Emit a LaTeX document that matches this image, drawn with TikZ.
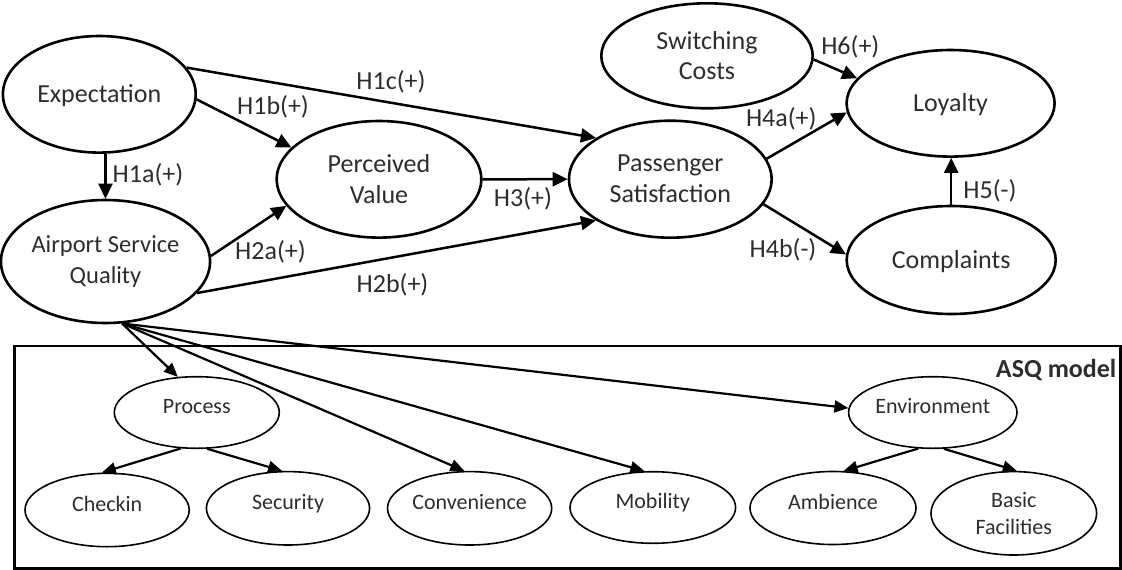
\documentclass[tikz,border=0pt]{standalone}
\usepackage{fontspec}
\setmainfont{Carlito}
\usetikzlibrary{arrows.meta,shapes.geometric}
\definecolor{txt}{RGB}{45,45,45}
\begin{document}
\begin{tikzpicture}[x=1pt,y=-1pt,
  big/.style={draw, ellipse, line width=2.6pt, inner sep=0pt, align=center,
    text=txt, font=\fontsize{26}{31}\selectfont},
  bigone/.style={big, text height=17pt, text depth=0pt},
  small/.style={draw, ellipse, line width=1.6pt, inner sep=0pt, align=center,
    text=txt, font=\fontsize{22}{26.5}\selectfont},
  smallone/.style={small, text height=14pt, text depth=12pt},
  lbl/.style={inner sep=0pt, text=txt, font=\fontsize{26}{31}\selectfont},
  arr/.style={line width=2.5pt, -{Triangle[length=15pt,width=14pt]}},
  sarr/.style={line width=2.2pt, -{Triangle[length=14pt,width=12pt]}},
]
\useasboundingbox (0,0) rectangle (1122,570);

% structural model
\node[bigone, minimum width=192.8pt, minimum height=116.6pt] (exp) at (99.3,94.3) {Expectation};
\node[big, minimum width=207.6pt, minimum height=123pt, font=\fontsize{24.5}{31}\selectfont] (asq) at (105.5,261.5) {Airport Service\\Quality};
\node[big, minimum width=204.6pt, minimum height=116.6pt] (pv) at (379,179.3) {Perceived\\Value};
\node[big, minimum width=202.6pt, minimum height=117pt] (ps) at (670.3,179.2) {Passenger\\Satisfaction};
\node[big, minimum width=211.4pt, minimum height=105pt, font=\fontsize{26}{30}\selectfont] (sc) at (707,55.8) {Switching\\Costs};
\node[bigone, minimum width=208pt, minimum height=106.6pt] (loy) at (950.6,103.3) {Loyalty};
\node[bigone, minimum width=209pt, minimum height=108pt] (comp) at (951.2,260) {Complaints};

\draw[arr] (asq.north |- exp.south) -- (asq.north);
\draw[arr] (exp.-3) -- (pv.160);
\draw[arr] (exp.17) -- (ps.151);
\draw[arr] (asq.3) -- (pv.196);
\draw[arr] (asq.-19) -- (ps.209);
\draw[arr] (pv.east) -- (ps.west);
\draw[arr] (sc.-2) -- (loy.165);
\draw[arr] (ps.12) -- (loy.185);
\draw[arr] (ps.-15) -- (comp.177);
\draw[arr] (comp.north) -- (comp.north |- loy.south);

\node[lbl] (h1a) at (148,175) {H1a(+)};
\node[lbl] (h1b) at (273,107) {H1b(+)};
\node[lbl] (h1c) at (391,81.7) {H1c(+)};
\node[lbl] (h2a) at (270.5,251.7) {H2a(+)};
\node[lbl] (h2b) at (392.5,285) {H2b(+)};
\node[lbl] (h3) at (523,198.3) {H3(+)};
\node[lbl] (h6) at (850.3,46.7) {H6(+)};
\node[lbl] (h4a) at (781.3,119) {H4a(+)};
\node[lbl] (h4b) at (783,250) {H4b(-)};
\node[lbl] (h5) at (990,191) {H5(-)};

% ASQ measurement model
\draw[line width=2.6pt] (14.3,345.8) rectangle (1120.3,568.3);
\node[anchor=east, inner sep=0pt, text=txt, font=\fontsize{26}{31}\bfseries] (asqmodel) at (1116.5,370) {ASQ model};

\node[smallone, minimum width=165pt, minimum height=71.6pt] (proc) at (196.8,412.5) {Process};
\node[smallone, minimum width=168.4pt, minimum height=71.6pt] (env) at (932.8,412.5) {Environment};
\node[smallone, minimum width=164.2pt, minimum height=73.4pt] (chk) at (107.1,510) {Checkin};
\node[smallone, minimum width=163.2pt, minimum height=73.4pt] (sec) at (288,508.3) {Security};
\node[smallone, minimum width=164.2pt, minimum height=73.4pt] (conv) at (469.6,508.3) {Convenience};
\node[smallone, minimum width=165.6pt, minimum height=71.6pt] (mob) at (652.8,507.5) {Mobility};
\node[smallone, minimum width=166pt, minimum height=73pt] (amb) at (833,508) {Ambience};
\node[small, minimum width=165.6pt, minimum height=83.4pt] (bas) at (1013.8,513.3) {Basic\\Facilities};

\draw[sarr] (asq.-75) -- (proc.118);
\draw[sarr] (asq.-75) -- (conv.98);
\draw[sarr] (asq.-75) -- (mob.103);
\draw[sarr] (asq.-75) -- (env.177);
\draw[sarr] (proc.246) -- (chk.98);
\draw[sarr] (proc.286) -- (sec.99);
\draw[sarr] (env.248) -- (amb.74);
\draw[sarr] (env.287) -- (bas.86);
\end{tikzpicture}
\end{document}
